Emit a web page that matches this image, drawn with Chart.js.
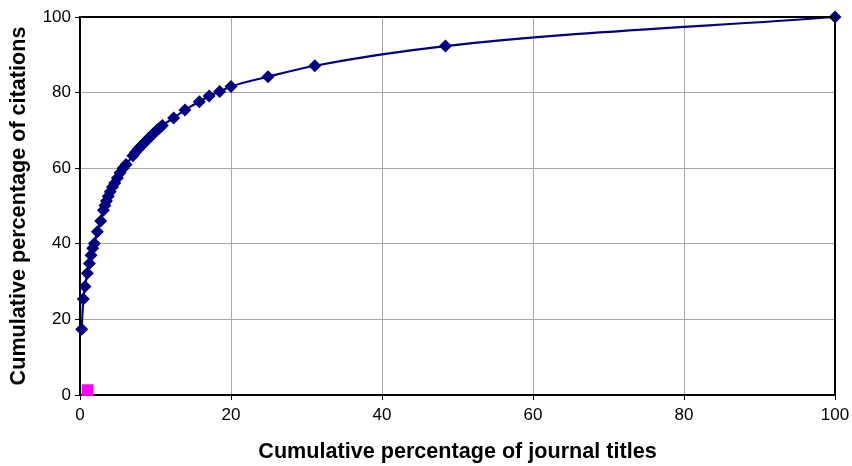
<!DOCTYPE html>
<html>
<head>
<meta charset="utf-8">
<script src="https://cdn.jsdelivr.net/npm/chart.js@4"></script>
<style>
html,body{margin:0;padding:0;background:#fff;}
#wrap{width:852px;height:466px;}
</style>
</head>
<body>
<div id="wrap"><canvas id="c" width="852" height="466"></canvas></div>
<script>
const xTitles = [0.22,0.44,0.66,0.97,1.24,1.46,1.68,1.9,2.3,2.74,3.1,3.3,3.5,3.75,4.0,4.3,4.6,4.95,5.3,5.7,6.1,
  7.0,7.35,7.7,8.05,8.4,8.75,9.1,9.45,9.8,10.15,10.5,10.9,
  12.4,13.9,15.8,17.1,18.5,20.0,24.9,31.1,48.4,100];
const yCitations = [17.4,25.4,28.7,32.2,34.8,37.0,38.8,40.1,43.2,46.0,48.9,50.1,51.3,52.6,53.8,55.0,56.1,57.4,58.8,60.0,61.0,
  63.3,64.2,65.0,65.8,66.5,67.2,67.9,68.6,69.3,70.0,70.6,71.3,
  73.3,75.4,77.6,79.1,80.3,81.6,84.2,87.1,92.3,100];
const refX = [1.0];
const refY = [1.3];
const xTickValues = [0,20,40,60,80,100];
const yTickValues = [0,20,40,60,80,100];

const curve = xTitles.map((x,i)=>({x:x,y:yCitations[i]}));
const ref = refX.map((x,i)=>({x:x,y:refY[i]}));
const FONT = '"Liberation Sans", Arial, sans-serif';

new Chart(document.getElementById('c'), {
  type: 'scatter',
  data: {
    datasets: [
      {
        data: curve,
        showLine: true,
        borderColor: '#000080',
        backgroundColor: '#000080',
        borderWidth: 2.2,
        pointStyle: 'rectRot',
        pointRadius: 6.5,
        pointBorderWidth: 0,
        cubicInterpolationMode: 'monotone'
      },
      {
        data: ref,
        showLine: false,
        pointStyle: 'rect',
        pointRadius: 8.2,
        backgroundColor: '#ff00ff',
        borderColor: '#ff00ff',
        pointBorderWidth: 0
      }
    ]
  },
  options: {
    responsive: false,
    animation: false,
    clip: false,
    layout: { padding: { top: 17, right: 17, left: 0, bottom: 0 } },
    plugins: { legend: { display: false }, tooltip: { enabled: false } },
    scales: {
      x: {
        type: 'linear',
        min: 0, max: 100,
        afterBuildTicks: s => { s.ticks = xTickValues.map(v => ({value: v})); },
        afterFit: s => { s.height = 71; s.paddingLeft = 0; s.paddingRight = 0; },
        grid: { color: '#a8a8a8', lineWidth: 1, tickColor: '#000', tickLength: 5, drawTicks: true },
        border: { color: '#000', width: 2 },
        ticks: { color: '#000', font: { family: FONT, size: 17 }, padding: 5, maxRotation: 0 },
        title: { display: true, text: 'Cumulative percentage of journal titles', color: '#000',
          font: { family: FONT, size: 21.6, weight: 'bold' }, padding: { top: 0, bottom: 1 } }
      },
      y: {
        type: 'linear',
        min: 0, max: 100,
        afterBuildTicks: s => { s.ticks = yTickValues.map(v => ({value: v})); },
        afterFit: s => { s.width = 80; s.paddingTop = 0; s.paddingBottom = 0; },
        grid: { color: '#a8a8a8', lineWidth: 1, tickColor: '#000', tickLength: 5 },
        border: { color: '#000', width: 2 },
        ticks: { color: '#000', font: { family: FONT, size: 17 }, padding: 4 },
        title: { display: true, text: 'Cumulative percentage of citations', color: '#000',
          font: { family: FONT, size: 21.6, weight: 'bold' }, padding: { top: 6, bottom: 0 } }
      }
    }
  },
  plugins: [{
    id: 'frame',
    afterDraw(chart) {
      const {ctx, chartArea: a} = chart;
      ctx.save();
      ctx.strokeStyle = '#000';
      ctx.lineWidth = 2;
      ctx.beginPath();
      ctx.moveTo(a.left, a.top); ctx.lineTo(a.right, a.top); ctx.lineTo(a.right, a.bottom);
      ctx.stroke();
      ctx.restore();
    }
  }]
});
</script>
</body>
</html>
